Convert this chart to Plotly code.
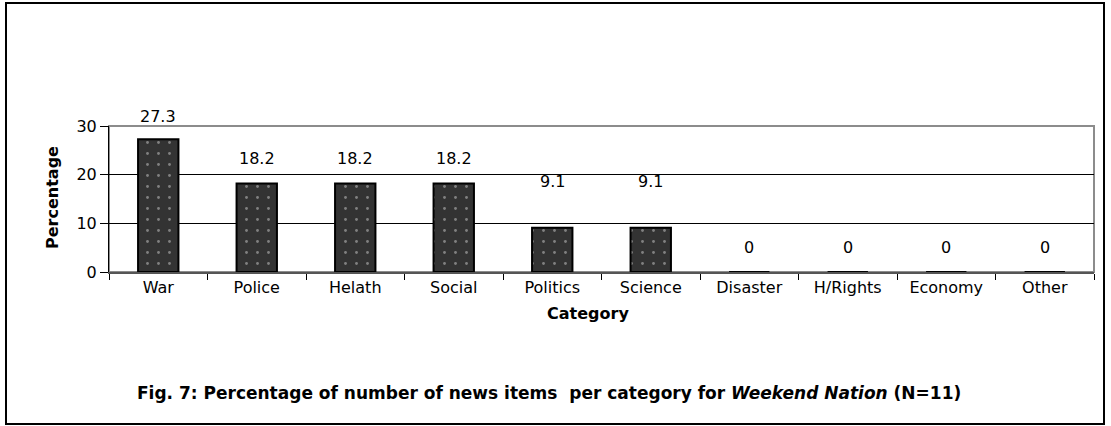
import plotly.graph_objects as go

# Share of news items per category, Weekend Nation (N=11)
categories = ["War", "Police", "Helath", "Social", "Politics", "Science",
              "Disaster", "H/Rights", "Economy", "Other"]
percentages = [27.3, 18.2, 18.2, 18.2, 9.1, 9.1, 0, 0, 0, 0]
y_ticks = [0, 10, 20, 30]

# vertical offset (px) of each value label above its bar top
label_offsets = [23, 25, 25, 25, 46, 46, 25, 25, 25, 25]

FONT = "DejaVu Sans, Verdana, sans-serif"
FS = 16

fig = go.Figure()
fig.add_trace(go.Bar(
    x=categories,
    y=percentages,
    width=0.41,
    marker=dict(
        color="#333333",
        line=dict(color="#000000", width=2),
        pattern=dict(shape=".", fgcolor="#d0d0d0", bgcolor="#333333",
                     size=11, solidity=0.05),
    ),
    hoverinfo="skip",
))

# value labels above the bars
for cat, val, off in zip(categories, percentages, label_offsets):
    fig.add_annotation(
        x=cat, y=val, text=f"{val:g}", showarrow=False,
        yshift=off, yanchor="middle",
        font=dict(family=FONT, size=FS, color="#000000"),
    )

# plot-area border (gray top/right edge)
fig.add_shape(type="rect", xref="paper", yref="paper",
              x0=0, x1=1, y0=0, y1=1,
              line=dict(color="#8c8c8c", width=2), layer="below")

# outer chart frame
W, H = 1111, 426
ml, mr, mt, mb = 109, 17, 126, 154
pw, ph = W - ml - mr, H - mt - mb

def px_x(x):
    return (x - ml) / pw

def px_y(y):
    return 1 - (y - mt) / ph

fig.add_shape(type="rect", xref="paper", yref="paper",
              x0=px_x(6), x1=px_x(1104), y0=px_y(424), y1=px_y(3),
              line=dict(color="#000000", width=2), layer="below")

# caption
fig.add_annotation(
    xref="paper", yref="paper", x=px_x(549), y=px_y(393),
    text="Fig. 7: Percentage of number of news items  per category for "
         "<i>Weekend Nation</i> (N=11)",
    showarrow=False, xanchor="center", yanchor="middle",
    font=dict(family=FONT, size=17, color="#000000", weight="bold"),
)

# x-axis title
fig.add_annotation(
    xref="paper", yref="paper", x=px_x(588), y=px_y(313),
    text="<b>Category</b>", showarrow=False,
    xanchor="center", yanchor="middle",
    font=dict(family=FONT, size=FS, color="#000000"),
)

# y-axis title
fig.add_annotation(
    xref="paper", yref="paper", x=px_x(52), y=px_y(198),
    text="<b>Percentage</b>", showarrow=False, textangle=-90,
    xanchor="center", yanchor="middle",
    font=dict(family=FONT, size=FS, color="#000000"),
)

fig.update_layout(
    width=W, height=H,
    margin=dict(l=ml, r=mr, t=mt, b=mb, pad=0),
    paper_bgcolor="#ffffff",
    plot_bgcolor="#ffffff",
    showlegend=False,
    font=dict(family=FONT, size=FS, color="#000000"),
    xaxis=dict(
        type="category",
        showline=True, linecolor="#555555", linewidth=2,
        ticks="outside", tickson="boundaries", ticklen=6,
        tickcolor="#000000", tickwidth=1,
        showgrid=False,
        tickfont=dict(family=FONT, size=FS, color="#000000"),
    ),
    yaxis=dict(
        range=[0, 30],
        tickvals=y_ticks,
        showline=True, linecolor="#000000", linewidth=1,
        ticks="outside", ticklen=8, tickcolor="#000000",
        showgrid=True, gridcolor="#000000", gridwidth=1,
        zeroline=False,
        tickfont=dict(family=FONT, size=FS, color="#000000"),
    ),
)

fig.write_html("out.html")
